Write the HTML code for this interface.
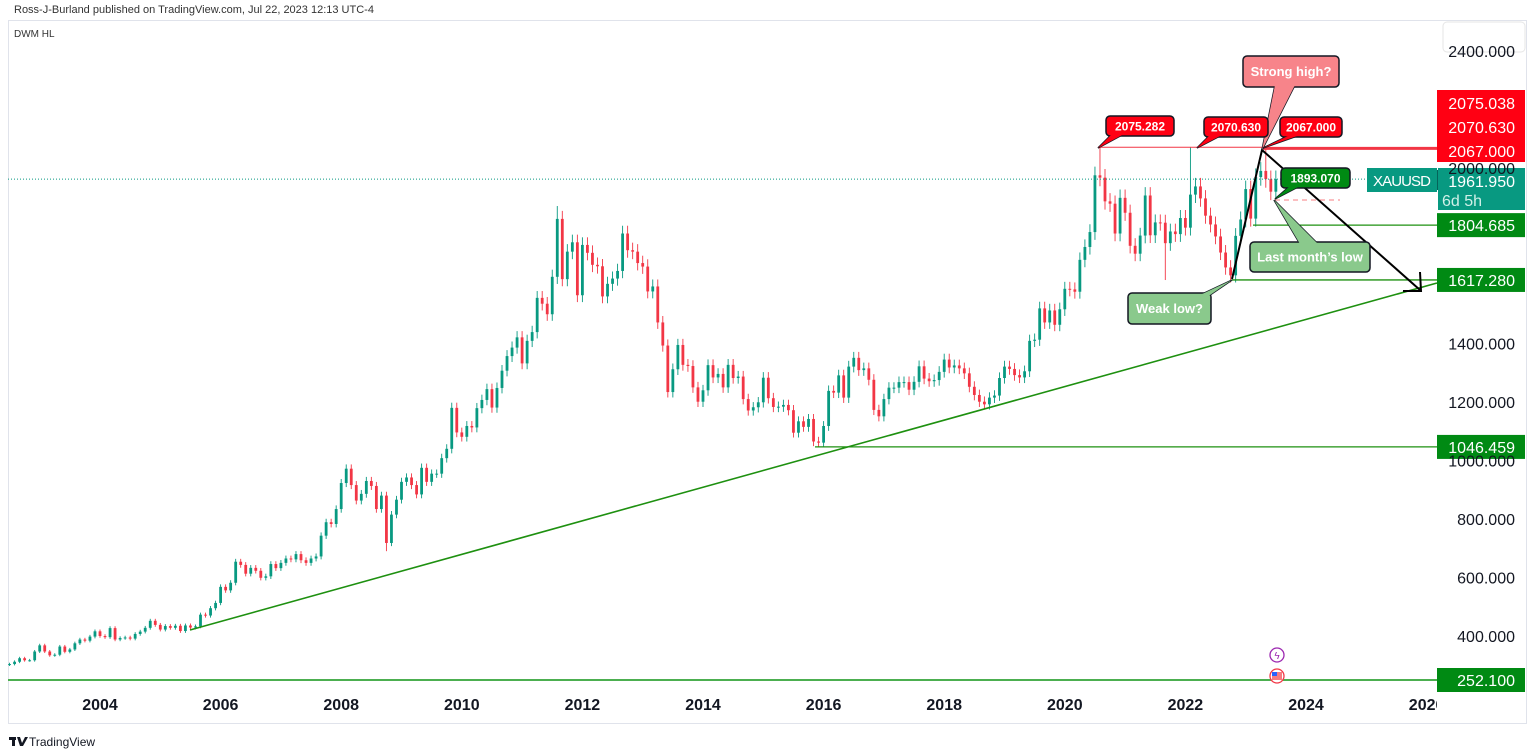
<!DOCTYPE html>
<html><head><meta charset="utf-8"><style>
body{margin:0;background:#fff;width:1536px;height:753px;overflow:hidden;font-family:"Liberation Sans",sans-serif;}
svg{position:absolute;left:0;top:0}
</style></head><body>
<svg id="c" width="1536" height="753" font-family="Liberation Sans, sans-serif">
<text x="14" y="13" font-size="11" fill="#333">Ross-J-Burland published on TradingView.com, Jul 22, 2023 12:13 UTC-4</text>
<rect x="8.5" y="20.5" width="1518" height="703" fill="none" stroke="#e0e3eb"/>
<text x="14" y="37" font-size="10" fill="#333">DWM HL</text>
<rect x="1443" y="22" width="82" height="30" rx="4" fill="#fff" stroke="#e6e6e6"/>
<g id="candles"></g>
<g id="ann"></g>
<g id="axis"></g>
<g transform="translate(9,734)">
<rect x="0" y="3" width="7" height="3" fill="#131722"/><rect x="3" y="3" width="3" height="9" fill="#131722"/>
<polygon points="8,3 11,3 13,9 16,3 19,3 14,12 11,12" fill="#131722"/>
<text x="20" y="12" font-size="12" fill="#131722">TradingView</text>
</g>
</svg>
<script>
const startYear = 2002.5;
const closes = [304,312,324,317,317,347,
368,347,334,336,364,346,354,375,388,384,398,416,
400,396,427,388,393,395,391,407,415,428,452,438,
422,434,428,435,417,436,429,433,473,470,495,513,
568,556,582,654,643,613,633,623,599,604,646,632,
650,665,662,680,659,650,665,672,743,789,783,834,
923,972,916,863,886,930,913,834,880,718,815,866,
927,942,916,884,975,927,955,955,1008,1040,1180,1096,
1081,1118,1113,1179,1207,1244,1181,1248,1307,1357,1386,1421,
1332,1409,1439,1556,1536,1500,1628,1826,1620,1714,1746,1565,
1737,1710,1669,1664,1561,1604,1622,1648,1776,1719,1714,1675,
1663,1578,1595,1472,1393,1234,1312,1395,1327,1323,1250,1201,
1240,1326,1284,1296,1250,1327,1282,1287,1210,1171,1182,1199,
1283,1213,1183,1184,1190,1172,1095,1134,1115,1142,1065,1061,
1118,1238,1232,1291,1215,1321,1351,1309,1315,1276,1173,1151,
1210,1249,1249,1268,1268,1242,1269,1322,1280,1271,1275,1303,
1345,1318,1325,1315,1298,1252,1224,1201,1192,1215,1222,1282,
1321,1313,1292,1284,1305,1409,1413,1520,1472,1513,1464,1517,
1587,1585,1577,1686,1730,1781,1975,1967,1886,1878,1776,1898,
1847,1734,1707,1769,1906,1770,1814,1813,1743,1783,1774,1829,
1796,1909,1937,1896,1837,1807,1766,1711,1660,1633,1768,1824,
1928,1827,1969,1990,1962,1919,1962];
const firstOpen = 302;
const extremeIdx = [109, 217, 235, 250, 161, 230, 75];
const extremeVal = [1870, 2075, 2070, 2067, 1046, 1617, 690];
const priceTicks = [2400,2000,1400,1200,1000,800,600,400];
const yearTicks = [2004,2006,2008,2010,2012,2014,2016,2018,2020,2022,2024,2026];
const levelLabels = [1804.685,1617.280,1046.459,252.100];

const NS="http://www.w3.org/2000/svg";
const X=t=>100+(t-2004)*60.3;
const Y=p=>636-(p-400)*0.2925;
function mk(tag,attrs,parent,txt){const e=document.createElementNS(NS,tag);for(const k in attrs)e.setAttribute(k,attrs[k]);if(txt!==undefined)e.textContent=txt;parent.appendChild(e);return e;}
const cg=document.getElementById('candles');
closes.forEach((c,i)=>{
  const o=i===0?firstOpen:closes[i-1];
  let hi=Math.max(o,c)*1.015, lo=Math.min(o,c)*0.985;
  const k=extremeIdx.indexOf(i);
  if(k>=0){ if(extremeVal[k]>Math.max(o,c)) hi=extremeVal[k]; else lo=extremeVal[k]; }
  const x=X(startYear+i/12), col=c>=o?'#089981':'#f23645';
  const g=mk('g',{},cg);
  
  
  mk('line',{x1:x,x2:x,y1:Y(hi),y2:Y(lo),stroke:col,'stroke-width':0.9},g);
  const t=Math.min(Y(o),Y(c));
  mk('rect',{x:x-1.4,y:t,width:2.8,height:Math.max(1,Math.abs(Y(o)-Y(c))),fill:col},g);
});
const ax=document.getElementById('axis');
priceTicks.forEach(p=>{const t=mk('text',{x:1515,y:Y(p)+6,'font-size':16,'text-anchor':'end',fill:'#131722'},ax,p.toFixed(3));});
const clip=mk('clipPath',{id:'cl'},ax);mk('rect',{x:0,y:690,width:1437,height:30},clip);
const yg=mk('g',{'clip-path':'url(#cl)'},ax);
yearTicks.forEach(y=>{const t=mk('text',{x:X(y),y:710,'font-size':16,'font-weight':'bold','text-anchor':'middle',fill:'#131722'},yg,String(y));});

const an=document.getElementById('ann');
mk('line',{x1:8,x2:1437,y1:Y(1961.95),y2:Y(1961.95),stroke:'#089981','stroke-dasharray':'1 2','stroke-width':1},an);
mk('line',{x1:190,y1:630,x2:1437,y2:283,stroke:'#1e9010','stroke-width':1.6},an);
mk('line',{x1:8,x2:1437,y1:680,y2:680,stroke:'#4caf50','stroke-width':2},an);
mk('line',{x1:815,x2:1437,y1:Y(1046.459),y2:Y(1046.459),stroke:'#1e9010','stroke-width':1.3},an);
mk('line',{x1:1232,x2:1437,y1:Y(1617.28),y2:Y(1617.28),stroke:'#1e9010','stroke-width':1.3},an);
mk('line',{x1:1253,x2:1437,y1:Y(1804.685),y2:Y(1804.685),stroke:'#1e9010','stroke-width':1.3},an);
mk('line',{x1:1098,x2:1262,y1:Y(2071),y2:Y(2071),stroke:'#f23645','stroke-width':1},an);
mk('line',{x1:1262,x2:1437,y1:Y(2067),y2:Y(2067),stroke:'#f23645','stroke-width':3},an);
mk('line',{x1:1275,x2:1340,y1:200,y2:200,stroke:'#f77c80','stroke-dasharray':'5 4','stroke-width':1},an);
mk('polyline',{points:'1232,279 1262,150 1420,290',fill:'none',stroke:'#000','stroke-width':2},an);
mk('polyline',{points:'1403,291 1421,291 1420,272',fill:'none',stroke:'#000','stroke-width':2},an);
function callout(x,y,w,h,fill,txt,tip,fs,col){
  const g=mk('g',{},an);
  
  
  mk('polygon',{points:tip,fill:fill,stroke:'#131722','stroke-width':1.5},g);
  mk('rect',{x:x,y:y,width:w,height:h,rx:4,fill:fill,stroke:'#131722','stroke-width':1.5},g);
  mk('polygon',{points:tip,fill:fill},g);
  mk('text',{x:x+w/2,y:y+h/2+fs*0.36,'font-size':fs,'font-weight':'bold','text-anchor':'middle',fill:col},g,txt);
}
callout(1243,56,96,31,'#f7848a','Strong high?','1275,85 1295,85 1262,150',13,'#fff');
callout(1106,116,68,20,'#ff0013','2075.282','1112,134 1124,134 1098,148',12,'#fff');
callout(1204,117,64,20,'#ff0013','2070.630','1210,135 1222,135 1197,148',12,'#fff');
callout(1280,117,62,20,'#ff0013','2067.000','1290,135 1300,135 1263,148',12,'#fff');
callout(1281,168,69,20,'#008a13','1893.070','1290,186 1300,186 1275,199',12,'#fff');
callout(1250,242,120,30,'#8ac98c','Last month\u2019s low','1300,244 1318,244 1274,200',13,'#fff');
callout(1128,293,83,31,'#8ac98c','Weak low?','1200,295 1210,295 1232,280',13,'#fff');
mk('rect',{x:1437,y:90,width:88,height:72,fill:'#ff0013'},an);
[['2075.038',109],['2070.630',133],['2067.000',157]].forEach(a=>{const t=mk('text',{x:1515,y:a[1],'font-size':16,'text-anchor':'end',fill:'#fff'},an,a[0]);});
mk('rect',{x:1367,y:168,width:70,height:24,fill:'#089981'},an);
mk('text',{x:1373,y:186,'font-size':15,fill:'#fff',textLength:58},an,'XAUUSD');
mk('line',{x1:1437.5,x2:1437.5,y1:170,y2:190,stroke:'#05645a'},an);
mk('rect',{x:1438,y:168,width:87,height:42,fill:'#089981'},an);
mk('text',{x:1515,y:187,'font-size':16,'text-anchor':'end',fill:'#fff'},an,'1961.950');
mk('text',{x:1442,y:206,'font-size':16,fill:'#d0f0e8'},an,'6d 5h');
levelLabels.forEach(v=>{
  const yy=v===252.1?680:Y(v);
  const r=mk('rect',{x:1437,y:yy-12,width:88,height:24,fill:'#008a13'},an);
  
  
  mk('text',{x:1515,y:yy+6,'font-size':16,'text-anchor':'end',fill:'#fff'},an,v.toFixed(3));
});
mk('circle',{cx:1277,cy:655,r:7,fill:'#fff',stroke:'#9c27b0','stroke-width':1.3},an);
mk('text',{x:1277,y:659,'font-size':10,'text-anchor':'middle',fill:'#9c27b0'},an,'ϟ');
mk('circle',{cx:1277,cy:676,r:7,fill:'#fff',stroke:'#f23645','stroke-width':1.3},an);
mk('rect',{x:1272,y:672,width:10,height:8,fill:'#f77c80'},an);
mk('rect',{x:1272,y:672,width:5,height:4,fill:'#2962ff'},an);
</script>
</body></html>
